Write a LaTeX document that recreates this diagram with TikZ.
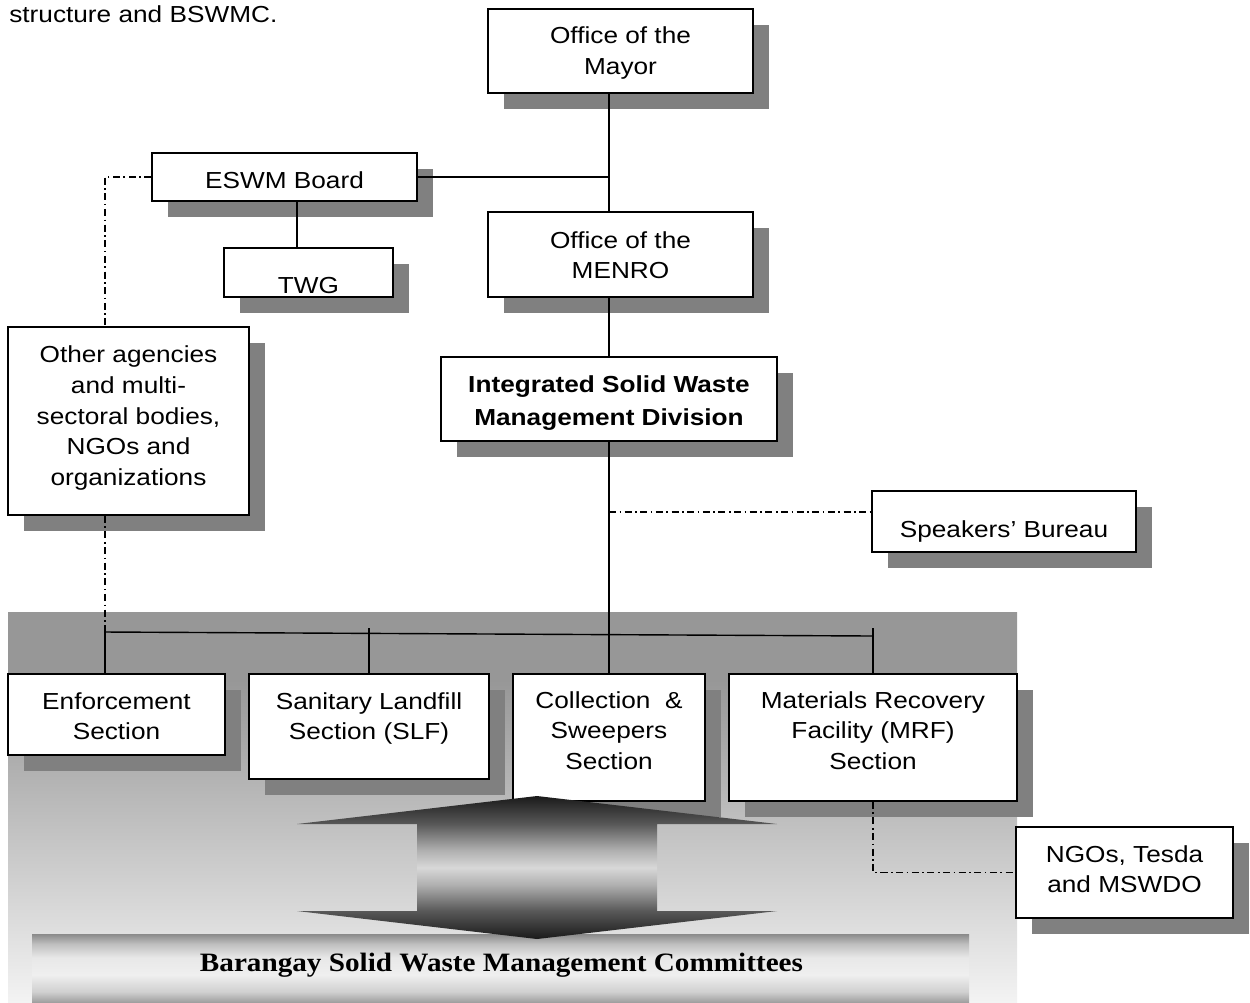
\documentclass[tikz,border=0pt]{standalone}
\usepackage{fontspec}
\setmainfont{Liberation Sans}[FakeStretch=1.13]
\newfontfamily\serifbold{Liberation Serif}[FakeStretch=1.1]
\usetikzlibrary{shadows,calc}
\definecolor{ar0}{HTML}{1A1A1A}
\definecolor{ar1}{HTML}{585858}
\definecolor{ar2}{HTML}{B0B0B0}
\definecolor{ar3}{HTML}{D8D8D8}
\definecolor{bgTop}{HTML}{979797}
\definecolor{bgBot}{HTML}{F3F3F3}
\definecolor{br0}{HTML}{A0A0A0}
\definecolor{br1}{HTML}{D0D0D0}
\definecolor{br2}{HTML}{EFEFEF}
\definecolor{br3}{HTML}{E8E8E8}
\definecolor{br4}{HTML}{C0C0C0}
\definecolor{br5}{HTML}{8A8A8A}
\pgfdeclareverticalshading{arrowshade}{100bp}{color(0bp)=(ar0); color(25bp)=(ar0); color(34.8bp)=(ar1); color(44bp)=(ar2); color(50bp)=(ar3); color(56bp)=(ar2); color(65.2bp)=(ar1); color(75bp)=(ar0); color(100bp)=(ar0)}
\pgfdeclareverticalshading{bgshade}{100bp}{color(0bp)=(bgBot); color(25bp)=(bgBot); color(66.3bp)=(bgTop); color(100bp)=(bgTop)}
\pgfdeclareverticalshading{barshade}{100bp}{color(0bp)=(br0); color(25bp)=(br0); color(32.5bp)=(br1); color(45bp)=(br2); color(57.5bp)=(br3); color(67.5bp)=(br4); color(75bp)=(br5); color(100bp)=(br5)}
\newcommand\stk[1]{\begin{tabular}[t]{@{}c@{}}#1\end{tabular}}
\tikzset{
  box/.style={draw, line width=0.9pt, fill=white, inner sep=0pt,
    drop shadow={shadow xshift=0.32cm, shadow yshift=-0.32cm, opacity=1, fill=black!50}},
  txt/.style={anchor=base, inner sep=0pt, font=\fontsize{13.2}{17.5}\selectfont},
  conn/.style={line width=0.8pt},
  dd/.style={line width=0.75pt, dash pattern=on 4pt off 2pt on 0.9pt off 2pt}
}
\begin{document}
\begin{tikzpicture}[x=0.02cm, y=-0.02cm]
\useasboundingbox (0,0) rectangle (1250,1002);
% background band
\path[shading=bgshade] (8,612) rectangle (1017,1002);
\path[shading=barshade] (32,934) rectangle (969,1002);
\node[inner sep=0pt, anchor=base, font=\serifbold\bfseries\fontsize{15.1}{18}\selectfont] (brgy) at (501.5,971.7) {Barangay Solid Waste Management Committees};
% heading
\node[txt, anchor=base west] (head) at (9,22.7) {structure and BSWMC.};
% boxes
\node[box, minimum width=5.30cm, minimum height=1.68cm] (mayor) at (620.5,51) {};
\node[box, minimum width=5.30cm, minimum height=0.96cm] (eswm) at (284.5,177) {};
\node[box, minimum width=3.38cm, minimum height=0.98cm] (twg) at (308.5,272.5) {};
\node[box, minimum width=5.30cm, minimum height=1.70cm] (menro) at (620.5,254.5) {};
\node[box, minimum width=4.82cm, minimum height=3.76cm] (other) at (128.5,421) {};
\node[box, minimum width=6.72cm, minimum height=1.68cm] (iswmd) at (609,399) {};
\node[box, minimum width=5.28cm, minimum height=1.22cm] (spk) at (1004,521.5) {};
\node[box, minimum width=4.34cm, minimum height=1.62cm] (enf) at (116.5,714.5) {};
\node[box, minimum width=4.80cm, minimum height=2.10cm] (slf) at (369,726.5) {};
\node[box, minimum width=3.84cm, minimum height=2.54cm] (coll) at (609,737.5) {};
\node[box, minimum width=5.76cm, minimum height=2.54cm] (mrf) at (873,737.5) {};
\node[box, minimum width=4.34cm, minimum height=1.82cm] (ngo) at (1124.5,872.5) {};
% texts
\node[txt] (mayorT) at (620.5,43.5) {\stk{Office of the\\Mayor}};
\node[txt] (eswmT) at (284.5,188) {ESWM Board};
\node[txt] (twgT) at (308.5,293) {TWG};
\node[txt] (menroT) at (620.5,248) {\stk{Office of the\\MENRO}};
\node[txt] (otherT) at (128.5,362.7) {\stk{Other agencies\\and multi-\\sectoral bodies,\\NGOs and\\organizations}};
\node[txt, font=\bfseries\fontsize{13.2}{18.9}\selectfont] (iswmdT) at (609,392) {\stk{Integrated Solid Waste\\Management Division}};
\node[txt] (spkT) at (1004,537) {Speakers’ Bureau};
\node[txt] (enfT) at (116.5,709) {\stk{Enforcement\\Section}};
\node[txt] (slfT) at (369,709) {\stk{Sanitary Landfill\\Section (SLF)}};
\node[txt] (collT) at (609,708) {\stk{Collection~ \&\\Sweepers\\Section}};
\node[txt] (mrfT) at (873,708) {\stk{Materials Recovery\\Facility (MRF)\\Section}};
\node[txt] (ngoT) at (1124.5,862) {\stk{NGOs, Tesda\\and MSWDO}};
% connectors
\coordinate (tw) at (297,0);
\coordinate (busL) at (105,632);
\coordinate (busR) at (873,636);
\coordinate (sbj) at (609,512);
\coordinate (slfTop) at (369,628);
\coordinate (mrfTop) at (873,628);
\draw[conn] (mayor.south -| iswmd.north) -- (menro.north -| iswmd.north);
\draw[conn] (eswm.east) -- (eswm.east -| iswmd.north);
\draw[conn] (eswm.south -| tw) -- (twg.north -| tw);
\draw[conn] (menro.south -| iswmd.north) -- (iswmd.north);
\draw[conn] (iswmd.south) -- (coll.north);
\draw[conn] (busL) -- (busR);
\draw[conn] (busL) -- (busL |- enf.north);
\draw[conn] (slfTop) -- (slf.north);
\draw[conn] (mrfTop) -- (mrf.north);
\draw[dd] (sbj) -- (sbj -| spk.west);
\draw[dd] (eswm.west) -| (other.north -| busL);
\draw[dd] (other.south -| busL) -- (busL);
\draw[dd] (mrf.south) |- (ngo.west);
% double arrow
\path[shading=arrowshade] (537,796) -- (777,824) -- (657,824) -- (657,911) -- (777,911) -- (537,939) -- (297,911) -- (417,911) -- (417,824) -- (297,824) -- cycle;
\end{tikzpicture}
\end{document}
